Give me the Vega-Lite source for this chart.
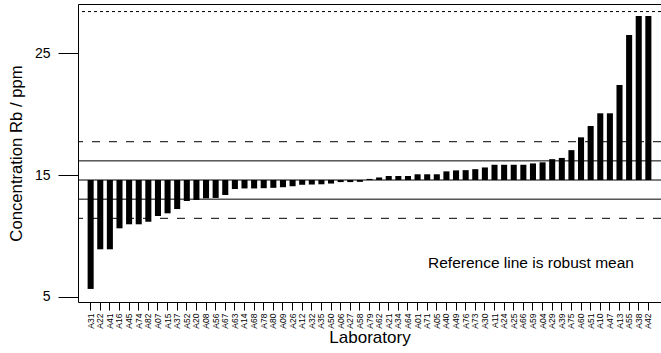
{
  "$schema": "https://vega.github.io/schema/vega-lite/v6.json",
  "width": 583,
  "height": 298,
  "autosize": "none",
  "padding": {"left": 78, "top": 4, "right": 0, "bottom": 51},
  "background": "white",
  "config": {
    "font": "Liberation Sans",
    "view": {"stroke": "black", "strokeWidth": 1},
    "axis": {"grid": false, "domain": false, "tickColor": "black", "labelColor": "black", "titleColor": "black", "titleFontWeight": "normal"}
  },
  "datasets": {
    "labs": [
      {"lab": "A31", "conc": 5.66},
      {"lab": "A22", "conc": 8.91},
      {"lab": "A41", "conc": 8.91},
      {"lab": "A16", "conc": 10.63},
      {"lab": "A45", "conc": 10.96},
      {"lab": "A74", "conc": 10.96},
      {"lab": "A82", "conc": 11.17},
      {"lab": "A07", "conc": 11.64},
      {"lab": "A15", "conc": 11.86},
      {"lab": "A37", "conc": 12.21},
      {"lab": "A52", "conc": 12.87},
      {"lab": "A20", "conc": 12.95},
      {"lab": "A08", "conc": 13.09},
      {"lab": "A56", "conc": 13.12},
      {"lab": "A67", "conc": 13.36},
      {"lab": "A63", "conc": 13.85},
      {"lab": "A14", "conc": 13.9},
      {"lab": "A68", "conc": 13.9},
      {"lab": "A78", "conc": 13.92},
      {"lab": "A80", "conc": 13.95},
      {"lab": "A09", "conc": 14.0},
      {"lab": "A26", "conc": 14.08},
      {"lab": "A12", "conc": 14.2},
      {"lab": "A32", "conc": 14.22},
      {"lab": "A35", "conc": 14.24},
      {"lab": "A50", "conc": 14.3},
      {"lab": "A06", "conc": 14.42},
      {"lab": "A27", "conc": 14.42},
      {"lab": "A58", "conc": 14.44},
      {"lab": "A79", "conc": 14.68},
      {"lab": "A62", "conc": 14.8},
      {"lab": "A21", "conc": 14.92},
      {"lab": "A34", "conc": 14.92},
      {"lab": "A64", "conc": 14.92},
      {"lab": "A01", "conc": 15.06},
      {"lab": "A71", "conc": 15.06},
      {"lab": "A05", "conc": 15.06},
      {"lab": "A40", "conc": 15.3},
      {"lab": "A49", "conc": 15.38},
      {"lab": "A76", "conc": 15.4},
      {"lab": "A73", "conc": 15.48},
      {"lab": "A30", "conc": 15.62},
      {"lab": "A11", "conc": 15.84},
      {"lab": "A24", "conc": 15.84},
      {"lab": "A25", "conc": 15.84},
      {"lab": "A66", "conc": 15.84},
      {"lab": "A59", "conc": 15.95},
      {"lab": "A04", "conc": 16.04},
      {"lab": "A29", "conc": 16.3},
      {"lab": "A39", "conc": 16.4},
      {"lab": "A75", "conc": 17.04},
      {"lab": "A60", "conc": 18.09},
      {"lab": "A51", "conc": 19.02},
      {"lab": "A10", "conc": 20.06},
      {"lab": "A47", "conc": 20.06},
      {"lab": "A13", "conc": 22.38},
      {"lab": "A55", "conc": 26.48},
      {"lab": "A38", "conc": 28.03},
      {"lab": "A42", "conc": 28.03}
    ],
    "inner": [{"value": 13.02}, {"value": 14.59}, {"value": 16.16}],
    "outer": [{"value": 11.45}, {"value": 17.73}],
    "limit": [{"value": 28.4}],
    "note": [{"lab": "A59", "note": "Reference line is robust mean"}]
  },
  "layer": [
    {
      "data": {"name": "labs"},
      "mark": {"type": "bar", "color": "black"},
      "encoding": {
        "x": {
          "field": "lab", "type": "nominal", "sort": null,
          "scale": {"paddingInner": 0.37, "paddingOuter": 1.15},
          "axis": {"labelAngle": 270, "labelFontSize": 8.5, "tickSize": 8, "labelPadding": 3, "title": "Laboratory", "titleFontSize": 17, "titlePadding": 1}
        },
        "y": {
          "field": "conc", "type": "quantitative",
          "scale": {"domain": [4.59, 29.02], "nice": false, "zero": false},
          "axis": {"values": [5, 15, 25], "tickSize": 20, "labelFontSize": 14, "labelPadding": 8, "title": "Concentration Rb / ppm\u00a0\u00a0\u00a0\u00a0\u00a0\u00a0\u00a0\u00a0", "titleFontSize": 16.7, "titlePadding": 9}
        },
        "y2": {"datum": 14.59}
      }
    },
    {
      "data": {"name": "inner"},
      "mark": {"type": "rule", "color": "black", "strokeWidth": 1},
      "encoding": {"y": {"field": "value", "type": "quantitative"}}
    },
    {
      "data": {"name": "outer"},
      "mark": {"type": "rule", "color": "black", "strokeWidth": 1, "strokeDash": [8, 9]},
      "encoding": {"y": {"field": "value", "type": "quantitative"}}
    },
    {
      "data": {"name": "limit"},
      "mark": {"type": "rule", "color": "black", "strokeWidth": 1, "strokeDash": [3, 3]},
      "encoding": {"y": {"field": "value", "type": "quantitative"}}
    },
    {
      "data": {"name": "note"},
      "mark": {"type": "text", "fontSize": 15.5, "color": "black", "align": "center", "baseline": "middle", "dx": -2},
      "encoding": {
        "x": {"field": "lab", "type": "nominal", "sort": null},
        "y": {"datum": 7.8},
        "text": {"field": "note"}
      }
    }
  ]
}
